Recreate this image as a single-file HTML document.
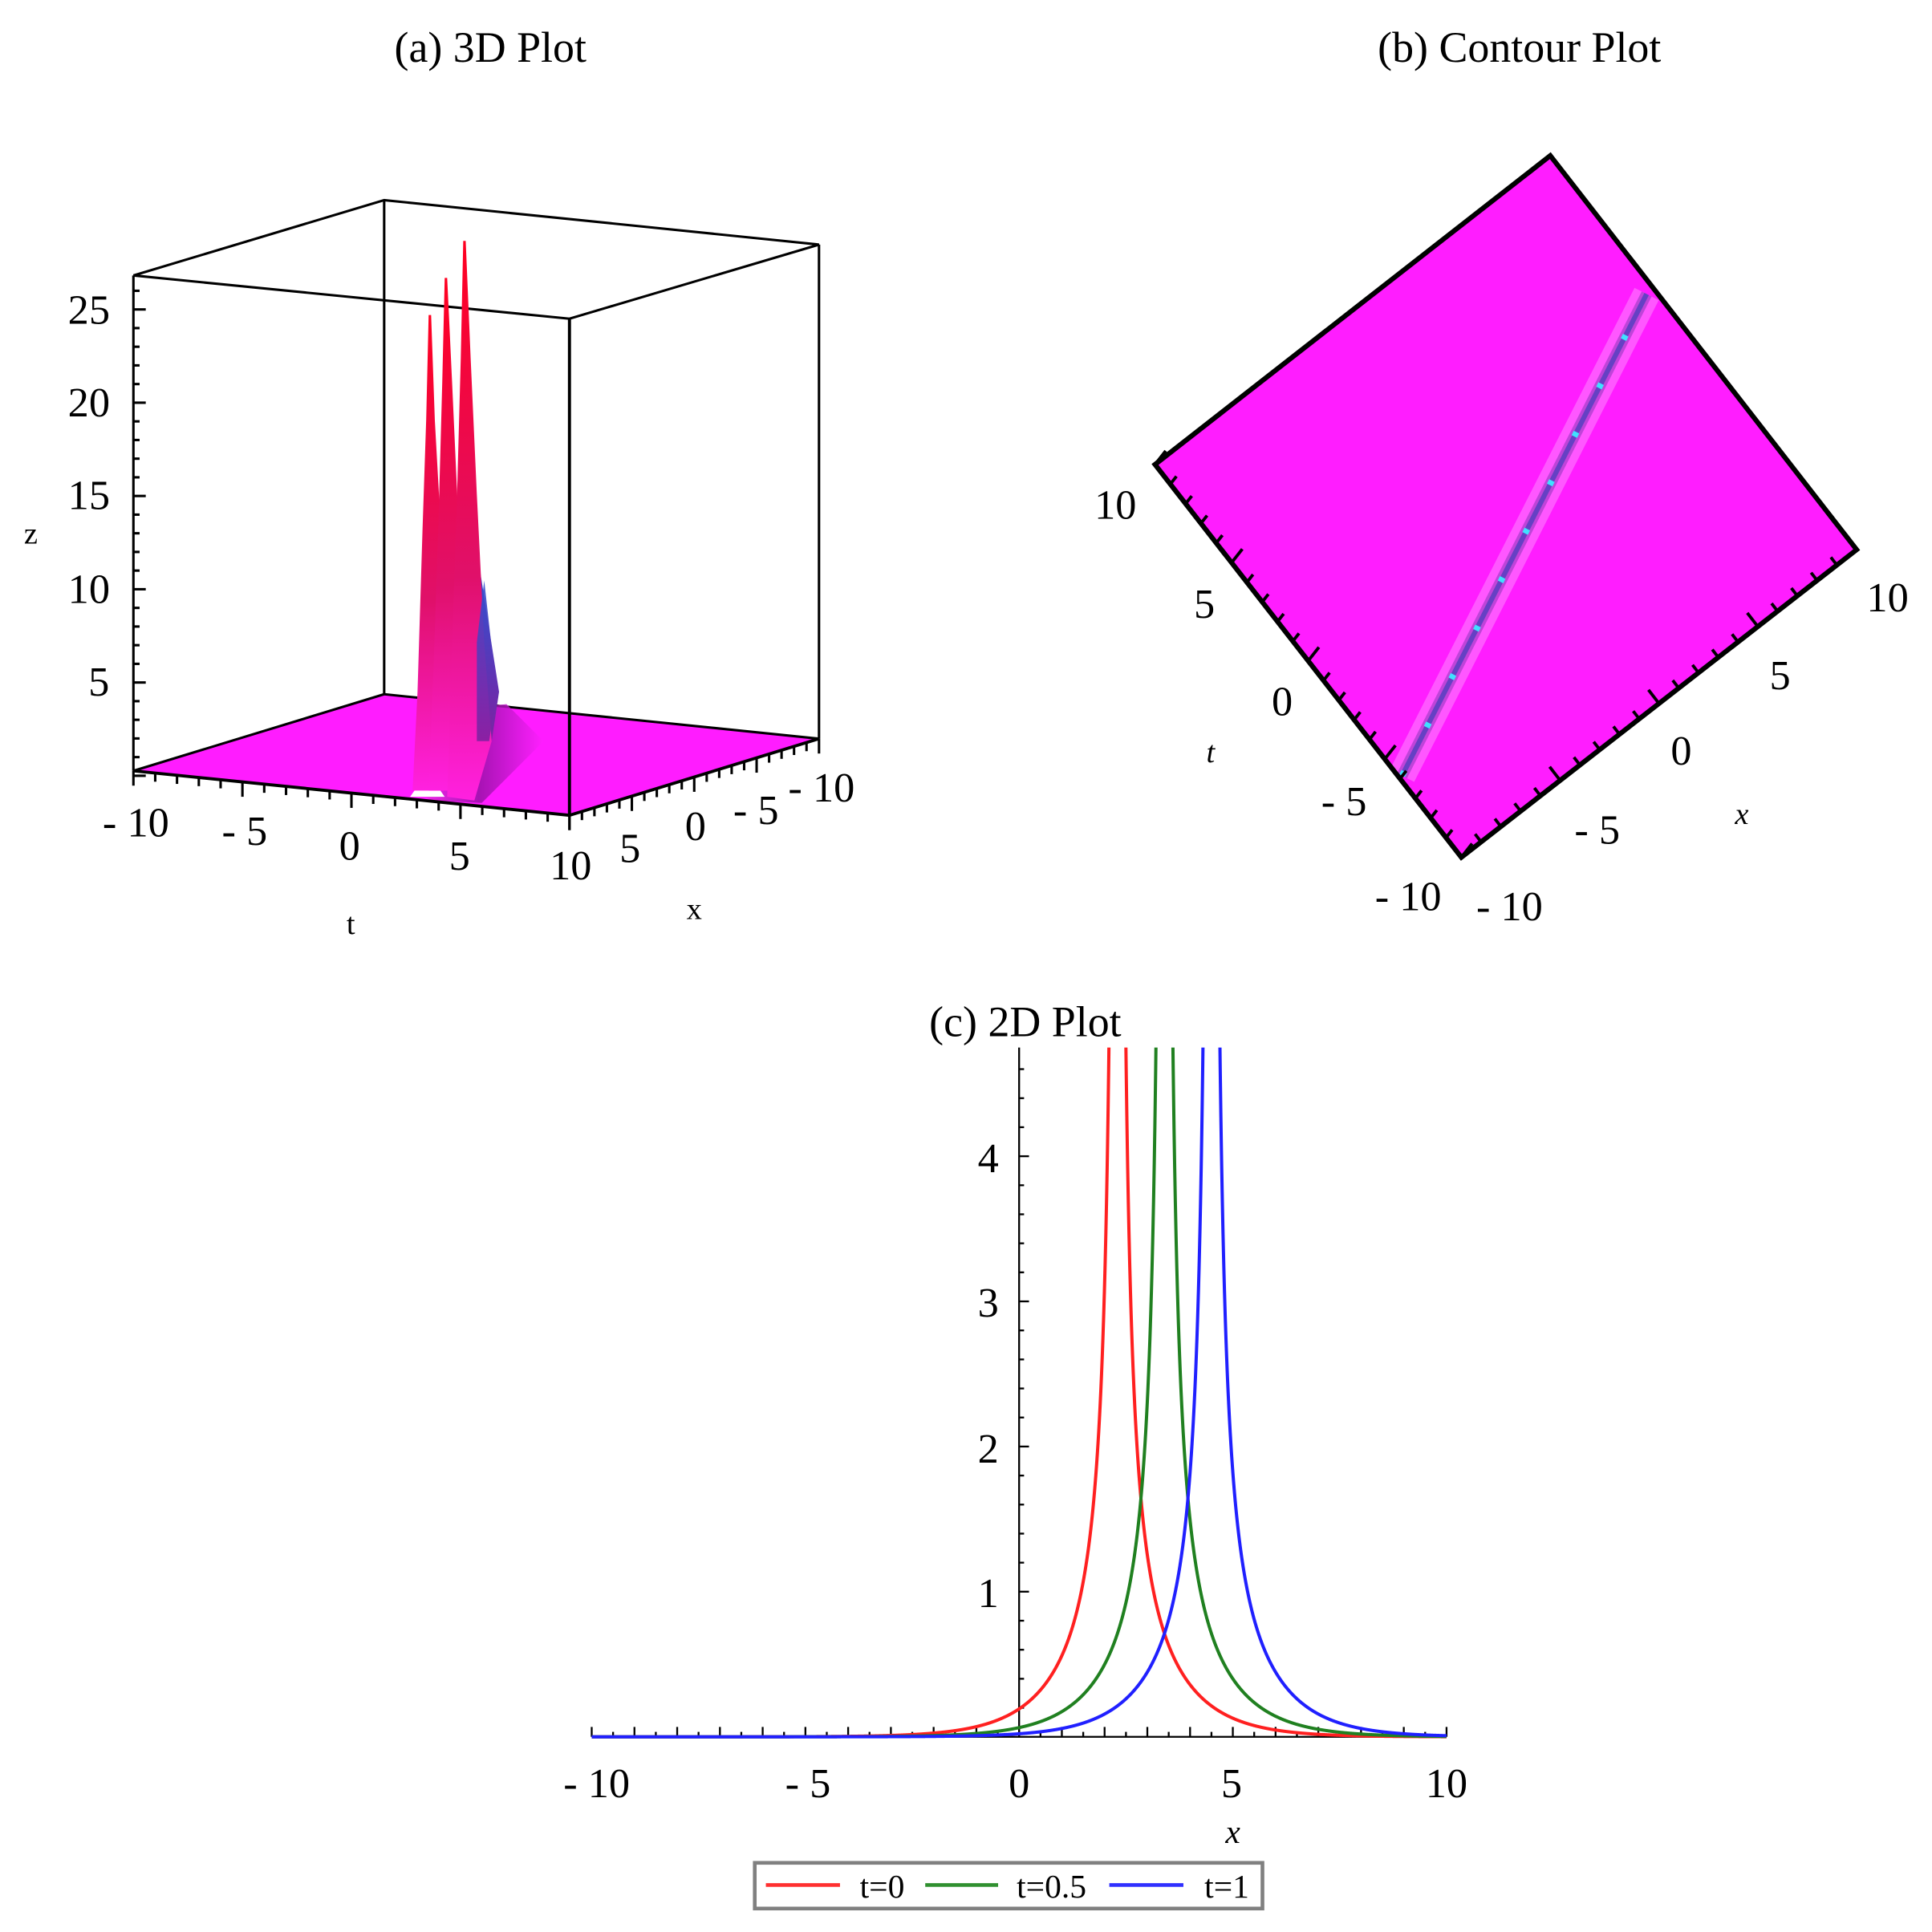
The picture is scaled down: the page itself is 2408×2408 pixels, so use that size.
<!DOCTYPE html>
<html><head><meta charset="utf-8">
<style>
html,body{margin:0;padding:0;background:#fff;}
svg{display:block;}
text{font-family:"Liberation Serif",serif;fill:#000;}
</style></head>
<body>
<svg id="s" width="2408" height="2408" viewBox="0 0 1564 1564" xmlns="http://www.w3.org/2000/svg">
<defs>
<linearGradient id="spk" x1="0" y1="0" x2="0" y2="1">
<stop offset="0" stop-color="#ff0020"/><stop offset="0.6" stop-color="#e0106a"/><stop offset="1" stop-color="#ff20e0"/>
</linearGradient>
<linearGradient id="blu" x1="0" y1="0" x2="0" y2="1">
<stop offset="0" stop-color="#3050d0"/><stop offset="1" stop-color="#8020a0"/>
</linearGradient>
<linearGradient id="base" x1="0" y1="0" x2="1" y2="0">
<stop offset="0" stop-color="#ff30f0"/><stop offset="0.5" stop-color="#9010a0"/><stop offset="1" stop-color="#ff20ff"/>
</linearGradient>
</defs>
<g font-size="35">
<text x="397" y="50" text-anchor="middle">(a) 3D Plot</text>
<text x="1230" y="50" text-anchor="middle">(b) Contour Plot</text>
<text x="830" y="839" text-anchor="middle">(c) 2D Plot</text>
</g>

<!-- Panel a -->
<polygon points="108,624 311,562 663,598 461,660" fill="#ff1cff"/>
<g stroke="#000" stroke-width="2" fill="none">
<polyline points="108,223 311,162 663,198 461,258 108,223"/>
<line x1="311" y1="162" x2="311" y2="562"/>
<line x1="663" y1="198" x2="663" y2="598"/>
<line x1="108" y1="223" x2="108" y2="624"/>
<line x1="311" y1="562" x2="663" y2="598"/>
<line x1="108" y1="624" x2="311" y2="562"/>
</g>
<polygon points="335,640 360,575 410,570 440,600 390,650 350,648" fill="url(#base)" opacity="0.8"/>
<path d="M332,645 L346,625 L360,645 Z" fill="#fff"/>
<polygon points="380,470 388,458 404,560 398,600 380,610" fill="url(#blu)"/>
<polygon points="334,640 338,560 342,430 345,340 347,255 349,255 352,340 357,430 362,560 366,640" fill="url(#spk)"/>
<polygon points="347,640 351,540 355,420 358,310 360,225 362,225 366,310 371,420 376,540 380,640" fill="url(#spk)"/>
<polygon points="362,645 366,520 370,400 373,290 375,195 377,195 381,290 386,400 392,520 398,600 384,648" fill="url(#spk)"/>
<polygon points="386,520 392,470 402,560 396,600 386,600" fill="url(#blu)" opacity="0.9"/>
<g stroke="#000" stroke-width="2.5" fill="none">
<line x1="108" y1="624" x2="461" y2="660"/>
<line x1="461" y1="660" x2="663" y2="598"/>
<line x1="461" y1="258" x2="461" y2="660"/>
</g>
<g id="a_ticks" stroke="#000" stroke-width="2"></g>
<g font-size="34">
<text x="72" y="262" text-anchor="middle">25</text>
<text x="72" y="337" text-anchor="middle">20</text>
<text x="72" y="412" text-anchor="middle">15</text>
<text x="72" y="488" text-anchor="middle">10</text>
<text x="80" y="563" text-anchor="middle">5</text>
<text x="25" y="440" font-size="25" text-anchor="middle">z</text>
<text x="110" y="677" text-anchor="middle">- 10</text>
<text x="198" y="684" text-anchor="middle">- 5</text>
<text x="283" y="696" text-anchor="middle">0</text>
<text x="372" y="704" text-anchor="middle">5</text>
<text x="462" y="712" text-anchor="middle">10</text>
<text x="284" y="756" font-size="25" text-anchor="middle">t</text>
<text x="510" y="698" text-anchor="middle">5</text>
<text x="563" y="680" text-anchor="middle">0</text>
<text x="612" y="667" text-anchor="middle">- 5</text>
<text x="665" y="649" text-anchor="middle">- 10</text>
<text x="562" y="744" font-size="25" text-anchor="middle">x</text>
</g>

<!-- Panel b -->
<polygon points="1255,126 1503,445 1183,694 935,376" fill="#ff1dff"/>
<line x1="1135" y1="628" x2="1333" y2="238" stroke="#ff70ff" stroke-width="22" opacity="0.7"/>
<line x1="1135" y1="628" x2="1333" y2="238" stroke="#b040d0" stroke-width="9" opacity="0.8"/>
<line x1="1135" y1="628" x2="1333" y2="238" stroke="#5040c0" stroke-width="4" opacity="0.8"/>
<line x1="1135" y1="628" x2="1333" y2="238" stroke="#40e0ff" stroke-width="5" stroke-dasharray="4 40"/>
<polygon points="1255,126 1503,445 1183,694 935,376" fill="none" stroke="#000" stroke-width="4"/>
<g id="b_ticks" stroke="#000" stroke-width="2.5"></g>
<g font-size="34">
<text x="903" y="420" text-anchor="middle">10</text>
<text x="975" y="500" text-anchor="middle">5</text>
<text x="1038" y="579" text-anchor="middle">0</text>
<text x="1088" y="660" text-anchor="middle">- 5</text>
<text x="1140" y="737" text-anchor="middle">- 10</text>
<text x="980" y="617" font-size="25" font-style="italic" text-anchor="middle">t</text>
<text x="1222" y="745" text-anchor="middle">- 10</text>
<text x="1293" y="683" text-anchor="middle">- 5</text>
<text x="1361" y="619" text-anchor="middle">0</text>
<text x="1441" y="558" text-anchor="middle">5</text>
<text x="1528" y="495" text-anchor="middle">10</text>
<text x="1410" y="667" font-size="25" font-style="italic" text-anchor="middle">x</text>
</g>

<!-- Panel c -->
<g id="c_axes" stroke="#000" stroke-width="1.5">
<line x1="479" y1="1406" x2="1171" y2="1406"/>
<line x1="825" y1="848" x2="825" y2="1406"/>
</g>
<g id="c_curves" fill="none" stroke-width="2.6"></g>
<g font-size="34">
<text x="483" y="1455" text-anchor="middle">- 10</text>
<text x="654" y="1455" text-anchor="middle">- 5</text>
<text x="825" y="1455" text-anchor="middle">0</text>
<text x="997" y="1455" text-anchor="middle">5</text>
<text x="1171" y="1455" text-anchor="middle">10</text>
<text x="998" y="1492" font-size="27" font-style="italic" text-anchor="middle">x</text>
<text x="800" y="1301" text-anchor="middle">1</text>
<text x="800" y="1184" text-anchor="middle">2</text>
<text x="800" y="1066" text-anchor="middle">3</text>
<text x="800" y="949" text-anchor="middle">4</text>
</g>
<rect x="611" y="1508" width="411" height="37" fill="#fff" stroke="#808080" stroke-width="3"/>
<line x1="620" y1="1526" x2="680" y2="1526" stroke="#ff3030" stroke-width="3"/>
<line x1="749" y1="1526" x2="808" y2="1526" stroke="#309030" stroke-width="3"/>
<line x1="898" y1="1526" x2="958" y2="1526" stroke="#3030ff" stroke-width="3"/>
<g font-size="27">
<text x="696" y="1536">t=0</text>
<text x="823" y="1536">t=0.5</text>
<text x="975" y="1536">t=1</text>
</g>
</svg>
<script>
const NS="http://www.w3.org/2000/svg";
function L(g,x1,y1,x2,y2){const l=document.createElementNS(NS,"line");l.setAttribute("x1",x1);l.setAttribute("y1",y1);l.setAttribute("x2",x2);l.setAttribute("y2",y2);g.appendChild(l);}
const at=document.getElementById("a_ticks");
for(let z=0;z<=26;z++){const y=628-z*15.1;L(at,108,y,108+(z%5==0?10:5),y);}
for(let i=0;i<=20;i++){const f=i/20;const x=108+f*353,y=624+f*36;const len=i%5==0?12:7;L(at,x,y,x,y+len);}
for(let i=0;i<=20;i++){const f=i/20;const x=461+f*202,y=660-f*62;const len=i%5==0?12:7;L(at,x,y,x,y+len);}
const bt=document.getElementById("b_ticks");
for(let i=0;i<=20;i++){const f=i/20;const x=935+f*248,y=376+f*318;const len=i%5==0?14:8;L(bt,x,y,x+0.62*len,y-0.79*len);}
for(let i=0;i<=20;i++){const f=i/20;const x=1183+f*320,y=694-f*249;const len=i%5==0?14:8;L(bt,x,y,x-0.61*len,y-0.79*len);}
const ca=document.getElementById("c_axes");
for(let i=-20;i<=20;i++){const x=825+i*0.5*34.6;L(ca,x,1406,x,1406-(i%2==0?8:4));}
for(let i=1;i<=23;i++){const y=1406-i*0.2*117.5;L(ca,825,y,825+(i%5==0?8:4),y);}
const cc=document.getElementById("c_curves");
[[2.3,"#ff2020"],[3.4,"#208020"],[4.5,"#2020ff"]].forEach(([c,col])=>{
 let segs=[[],[]];
 for(let k=0;k<=4000;k++){const x=-10+k*20/4000;const d=x-c;if(Math.abs(d)<1e-4)continue;
  const f=0.95/Math.abs(Math.sinh(d));if(f>4.9)continue;
  const px=825+x*34.6,py=1406-f*117.5;(d<0?segs[0]:segs[1]).push(px.toFixed(2)+","+py.toFixed(2));}
 segs.forEach(s=>{const p=document.createElementNS(NS,"polyline");p.setAttribute("points",s.join(" "));p.setAttribute("stroke",col);cc.appendChild(p);});
});
cc.setAttribute("clip-path","url(#cclip)");
const cp=document.createElementNS(NS,"clipPath");cp.setAttribute("id","cclip");
const r=document.createElementNS(NS,"rect");r.setAttribute("x",470);r.setAttribute("y",848);r.setAttribute("width",710);r.setAttribute("height",570);
cp.appendChild(r);document.querySelector("defs").appendChild(cp);
</script>
</body></html>
